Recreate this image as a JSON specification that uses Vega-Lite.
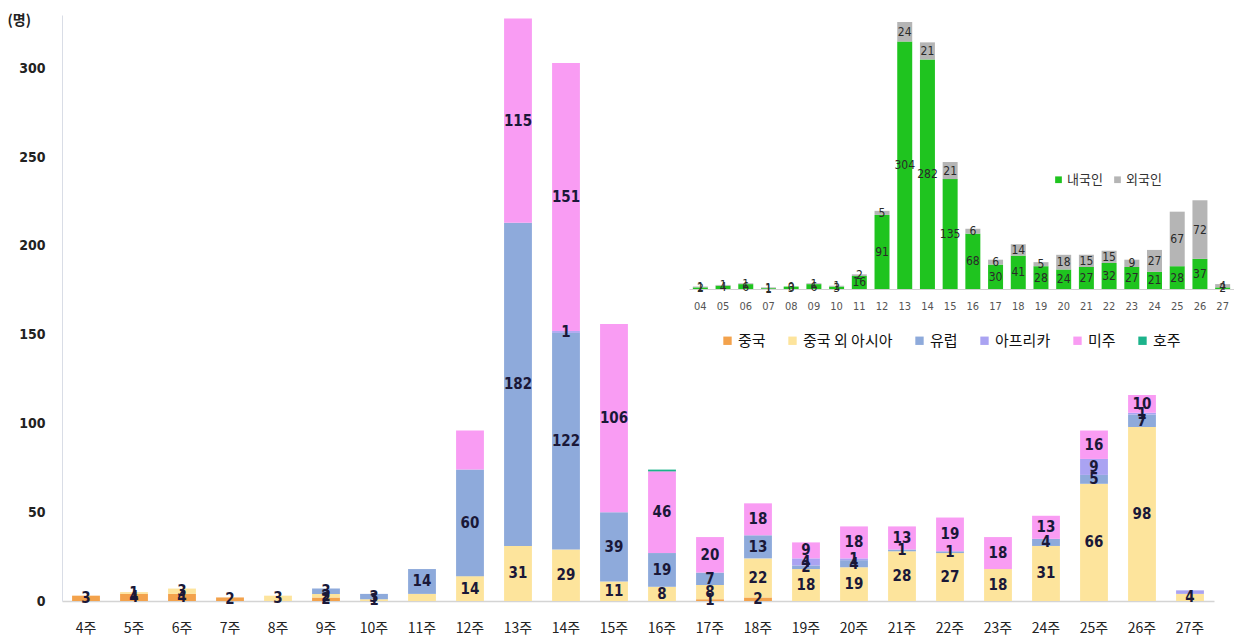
{
  "$schema": "https://vega.github.io/schema/vega-lite/v6.json",
  "width": 1152,
  "height": 586,
  "autosize": {"type": "none"},
  "padding": {"left": 62, "top": 15, "right": 20, "bottom": 43},
  "background": "white",
  "config": {"view": {"stroke": null}},
  "datasets": {
    "main": [
      {"week": "4주", "region": "중국", "k": 1, "value": 3, "label": "3"},
      {"week": "5주", "region": "중국", "k": 1, "value": 4, "label": "4"},
      {"week": "5주", "region": "중국 외 아시아", "k": 2, "value": 1, "label": "1"},
      {"week": "6주", "region": "중국", "k": 1, "value": 4, "label": "4"},
      {"week": "6주", "region": "중국 외 아시아", "k": 2, "value": 3, "label": "3"},
      {"week": "7주", "region": "중국", "k": 1, "value": 2, "label": "2"},
      {"week": "8주", "region": "중국 외 아시아", "k": 2, "value": 3, "label": "3"},
      {"week": "9주", "region": "중국", "k": 1, "value": 2, "label": "2"},
      {"week": "9주", "region": "중국 외 아시아", "k": 2, "value": 2, "label": "2"},
      {"week": "9주", "region": "유럽", "k": 3, "value": 3, "label": "3"},
      {"week": "10주", "region": "중국 외 아시아", "k": 2, "value": 1, "label": "1"},
      {"week": "10주", "region": "유럽", "k": 3, "value": 3, "label": "3"},
      {"week": "11주", "region": "중국 외 아시아", "k": 2, "value": 4, "label": ""},
      {"week": "11주", "region": "유럽", "k": 3, "value": 14, "label": "14"},
      {"week": "12주", "region": "중국 외 아시아", "k": 2, "value": 14, "label": "14"},
      {"week": "12주", "region": "유럽", "k": 3, "value": 60, "label": "60"},
      {"week": "12주", "region": "미주", "k": 5, "value": 22, "label": ""},
      {"week": "13주", "region": "중국 외 아시아", "k": 2, "value": 31, "label": "31"},
      {"week": "13주", "region": "유럽", "k": 3, "value": 182, "label": "182"},
      {"week": "13주", "region": "미주", "k": 5, "value": 115, "label": "115"},
      {"week": "14주", "region": "중국 외 아시아", "k": 2, "value": 29, "label": "29"},
      {"week": "14주", "region": "유럽", "k": 3, "value": 122, "label": "122"},
      {"week": "14주", "region": "아프리카", "k": 4, "value": 1, "label": "1"},
      {"week": "14주", "region": "미주", "k": 5, "value": 151, "label": "151"},
      {"week": "15주", "region": "중국 외 아시아", "k": 2, "value": 11, "label": "11"},
      {"week": "15주", "region": "유럽", "k": 3, "value": 39, "label": "39"},
      {"week": "15주", "region": "미주", "k": 5, "value": 106, "label": "106"},
      {"week": "16주", "region": "중국 외 아시아", "k": 2, "value": 8, "label": "8"},
      {"week": "16주", "region": "유럽", "k": 3, "value": 19, "label": "19"},
      {"week": "16주", "region": "미주", "k": 5, "value": 46, "label": "46"},
      {"week": "16주", "region": "호주", "k": 6, "value": 1, "label": ""},
      {"week": "17주", "region": "중국", "k": 1, "value": 1, "label": "1"},
      {"week": "17주", "region": "중국 외 아시아", "k": 2, "value": 8, "label": "8"},
      {"week": "17주", "region": "유럽", "k": 3, "value": 7, "label": "7"},
      {"week": "17주", "region": "미주", "k": 5, "value": 20, "label": "20"},
      {"week": "18주", "region": "중국", "k": 1, "value": 2, "label": "2"},
      {"week": "18주", "region": "중국 외 아시아", "k": 2, "value": 22, "label": "22"},
      {"week": "18주", "region": "유럽", "k": 3, "value": 13, "label": "13"},
      {"week": "18주", "region": "미주", "k": 5, "value": 18, "label": "18"},
      {"week": "19주", "region": "중국 외 아시아", "k": 2, "value": 18, "label": "18"},
      {"week": "19주", "region": "유럽", "k": 3, "value": 2, "label": "2"},
      {"week": "19주", "region": "아프리카", "k": 4, "value": 4, "label": "4"},
      {"week": "19주", "region": "미주", "k": 5, "value": 9, "label": "9"},
      {"week": "20주", "region": "중국 외 아시아", "k": 2, "value": 19, "label": "19"},
      {"week": "20주", "region": "유럽", "k": 3, "value": 4, "label": "4"},
      {"week": "20주", "region": "아프리카", "k": 4, "value": 1, "label": "1"},
      {"week": "20주", "region": "미주", "k": 5, "value": 18, "label": "18"},
      {"week": "21주", "region": "중국 외 아시아", "k": 2, "value": 28, "label": "28"},
      {"week": "21주", "region": "유럽", "k": 3, "value": 1, "label": "1"},
      {"week": "21주", "region": "미주", "k": 5, "value": 13, "label": "13"},
      {"week": "22주", "region": "중국 외 아시아", "k": 2, "value": 27, "label": "27"},
      {"week": "22주", "region": "유럽", "k": 3, "value": 1, "label": "1"},
      {"week": "22주", "region": "미주", "k": 5, "value": 19, "label": "19"},
      {"week": "23주", "region": "중국 외 아시아", "k": 2, "value": 18, "label": "18"},
      {"week": "23주", "region": "미주", "k": 5, "value": 18, "label": "18"},
      {"week": "24주", "region": "중국 외 아시아", "k": 2, "value": 31, "label": "31"},
      {"week": "24주", "region": "유럽", "k": 3, "value": 4, "label": "4"},
      {"week": "24주", "region": "미주", "k": 5, "value": 13, "label": "13"},
      {"week": "25주", "region": "중국 외 아시아", "k": 2, "value": 66, "label": "66"},
      {"week": "25주", "region": "유럽", "k": 3, "value": 5, "label": "5"},
      {"week": "25주", "region": "아프리카", "k": 4, "value": 9, "label": "9"},
      {"week": "25주", "region": "미주", "k": 5, "value": 16, "label": "16"},
      {"week": "26주", "region": "중국 외 아시아", "k": 2, "value": 98, "label": "98"},
      {"week": "26주", "region": "유럽", "k": 3, "value": 7, "label": "7"},
      {"week": "26주", "region": "아프리카", "k": 4, "value": 1, "label": "1"},
      {"week": "26주", "region": "미주", "k": 5, "value": 10, "label": "10"},
      {"week": "27주", "region": "중국 외 아시아", "k": 2, "value": 4, "label": "4"},
      {"week": "27주", "region": "아프리카", "k": 4, "value": 2, "label": ""}
    ],
    "inset": [
      {"wk": "04", "type": "내국인", "value": 2}, {"wk": "04", "type": "외국인", "value": 1},
      {"wk": "05", "type": "내국인", "value": 4}, {"wk": "05", "type": "외국인", "value": 1},
      {"wk": "06", "type": "내국인", "value": 6}, {"wk": "06", "type": "외국인", "value": 1},
      {"wk": "07", "type": "내국인", "value": 1}, {"wk": "07", "type": "외국인", "value": 1},
      {"wk": "08", "type": "내국인", "value": 3}, {"wk": "08", "type": "외국인", "value": 0},
      {"wk": "09", "type": "내국인", "value": 6}, {"wk": "09", "type": "외국인", "value": 1},
      {"wk": "10", "type": "내국인", "value": 3}, {"wk": "10", "type": "외국인", "value": 1},
      {"wk": "11", "type": "내국인", "value": 16}, {"wk": "11", "type": "외국인", "value": 2},
      {"wk": "12", "type": "내국인", "value": 91}, {"wk": "12", "type": "외국인", "value": 5},
      {"wk": "13", "type": "내국인", "value": 304}, {"wk": "13", "type": "외국인", "value": 24},
      {"wk": "14", "type": "내국인", "value": 282}, {"wk": "14", "type": "외국인", "value": 21},
      {"wk": "15", "type": "내국인", "value": 135}, {"wk": "15", "type": "외국인", "value": 21},
      {"wk": "16", "type": "내국인", "value": 68}, {"wk": "16", "type": "외국인", "value": 6},
      {"wk": "17", "type": "내국인", "value": 30}, {"wk": "17", "type": "외국인", "value": 6},
      {"wk": "18", "type": "내국인", "value": 41}, {"wk": "18", "type": "외국인", "value": 14},
      {"wk": "19", "type": "내국인", "value": 28}, {"wk": "19", "type": "외국인", "value": 5},
      {"wk": "20", "type": "내국인", "value": 24}, {"wk": "20", "type": "외국인", "value": 18},
      {"wk": "21", "type": "내국인", "value": 27}, {"wk": "21", "type": "외국인", "value": 15},
      {"wk": "22", "type": "내국인", "value": 32}, {"wk": "22", "type": "외국인", "value": 15},
      {"wk": "23", "type": "내국인", "value": 27}, {"wk": "23", "type": "외국인", "value": 9},
      {"wk": "24", "type": "내국인", "value": 21}, {"wk": "24", "type": "외국인", "value": 27},
      {"wk": "25", "type": "내국인", "value": 28}, {"wk": "25", "type": "외국인", "value": 67},
      {"wk": "26", "type": "내국인", "value": 37}, {"wk": "26", "type": "외국인", "value": 72},
      {"wk": "27", "type": "내국인", "value": 2}, {"wk": "27", "type": "외국인", "value": 4}
    ]
  },
  "layer": [
    {
      "data": {"name": "main"},
      "encoding": {
        "x": {
          "field": "week", "type": "nominal", "sort": null,
          "scale": {"paddingInner": 0.42, "paddingOuter": 0.21},
          "axis": {
            "orient": "bottom", "title": null, "labelAngle": 0, "ticks": false,
            "domainColor": "#d4d4d4", "domainWidth": 1.5,
            "labelFont": "Noto Sans CJK KR", "labelFontSize": 14, "labelColor": "#222222",
            "labelPadding": 20
          }
        }
      },
      "layer": [
        {
          "mark": {"type": "bar"},
          "encoding": {
            "y": {
              "field": "value", "type": "quantitative", "stack": "zero",
              "scale": {"domain": [0, 330], "nice": false},
              "axis": {
                "orient": "left", "title": "(명)", "titleAngle": 0, "titleAlign": "left", "titleBaseline": "middle",
                "titleX": -55, "titleY": 5, "titleFont": "Noto Sans CJK KR", "titleFontSize": 14,
                "titleFontWeight": "bold", "titleColor": "#222222",
                "values": [0, 50, 100, 150, 200, 250, 300], "grid": false, "ticks": false,
                "domainColor": "#d9dde6", "labelFont": "Liberation Sans Narrow, DejaVu Sans Condensed, sans-serif",
                "labelFontSize": 14, "labelFontWeight": "bold", "labelColor": "#222222", "labelPadding": 17
              }
            },
            "order": {"field": "k", "type": "quantitative"},
            "color": {
              "field": "region", "type": "nominal",
              "sort": ["중국", "중국 외 아시아", "유럽", "아프리카", "미주", "호주"],
              "scale": {
                "domain": ["중국", "중국 외 아시아", "유럽", "아프리카", "미주", "호주"],
                "range": ["#f3a24c", "#fde49c", "#8eaadb", "#aaa3f2", "#f99cf3", "#1cb38b"]
              },
              "legend": {
                "title": null, "orient": "none", "legendX": 658, "legendY": 318,
                "direction": "horizontal", "symbolType": "square", "symbolSize": 70,
                "symbolStrokeWidth": 0, "labelFont": "Noto Sans CJK KR", "labelFontSize": 15,
                "labelColor": "#111111", "columnPadding": 19, "labelOffset": 3
              }
            }
          }
        },
        {
          "mark": {
            "type": "text", "font": "Liberation Sans Narrow, DejaVu Sans Condensed, sans-serif",
            "fontSize": 15, "fontWeight": "bold", "color": "#1a1838", "baseline": "middle"
          },
          "encoding": {
            "y": {"field": "value", "type": "quantitative", "stack": "zero", "bandPosition": 0.5},
            "order": {"field": "k", "type": "quantitative"},
            "detail": {"field": "region"},
            "text": {"field": "label"}
          }
        }
      ]
    },
    {
      "data": {"name": "inset"},
      "encoding": {
        "x": {
          "field": "wk", "type": "nominal", "sort": null,
          "scale": {"range": [627, 1172], "paddingInner": 0.34, "paddingOuter": 0.17},
          "axis": {
            "orient": "bottom", "title": null, "labelAngle": 0, "ticks": false, "offset": -312,
            "domainColor": "#d0d0d0", "labelFont": "Liberation Sans Narrow, DejaVu Sans Condensed, sans-serif",
            "labelFontSize": 11, "labelColor": "#555555", "labelPadding": 11
          }
        }
      },
      "layer": [
        {
          "mark": {"type": "bar"},
          "encoding": {
            "y": {
              "field": "value", "type": "quantitative", "stack": "zero",
              "scale": {"domain": [0, 328], "range": [274, 7], "nice": false},
              "axis": null
            },
            "order": {"field": "type"},
            "color": {
              "field": "type", "type": "nominal",
              "scale": {"domain": ["내국인", "외국인"], "range": ["#1fc41f", "#b5b5b5"]},
              "legend": {
                "title": null, "orient": "none", "legendX": 990, "legendY": 158,
                "direction": "horizontal", "symbolType": "square", "symbolSize": 45,
                "symbolStrokeWidth": 0, "labelFont": "Noto Sans CJK KR", "labelFontSize": 13,
                "labelColor": "#333333", "columnPadding": 8, "labelOffset": 2
              }
            }
          }
        },
        {
          "mark": {
            "type": "text", "font": "Liberation Sans Narrow, DejaVu Sans Condensed, sans-serif",
            "fontSize": 12, "color": "#2a2a2a", "baseline": "middle"
          },
          "encoding": {
            "y": {"field": "value", "type": "quantitative", "stack": "zero", "bandPosition": 0.5},
            "order": {"field": "type"},
            "detail": {"field": "type"},
            "text": {"field": "value"}
          }
        }
      ]
    }
  ],
  "resolve": {
    "scale": {"x": "independent", "y": "independent", "color": "independent"},
    "axis": {"x": "independent", "y": "independent"},
    "legend": {"color": "independent"}
  }
}
